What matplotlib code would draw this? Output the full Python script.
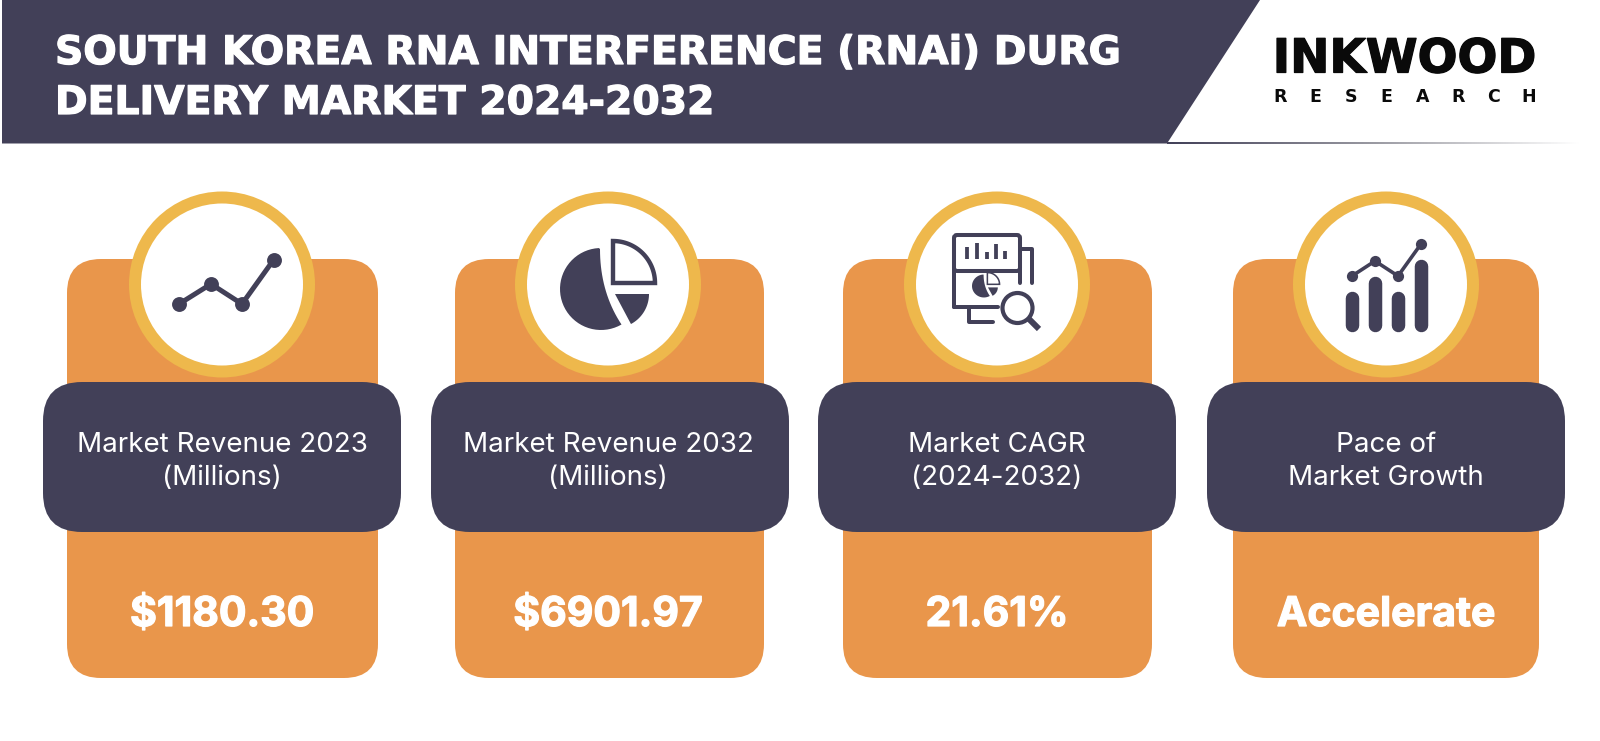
import numpy as np
import matplotlib
matplotlib.use("Agg")
import matplotlib.pyplot as plt
import matplotlib.patheffects as pe
from matplotlib.patches import Circle, FancyBboxPatch, Polygon
from matplotlib.colors import LinearSegmentedColormap

DARK = "#424058"
ORANGE = "#E9964B"
YELLOW = "#EEB84C"
FONT = "Inter"
HEAVY = "DejaVu Sans"

title_lines = ["SOUTH KOREA RNA INTERFERENCE (RNAi) DURG", "DELIVERY MARKET 2024-2032"]
labels_top = ["Market Revenue 2023", "Market Revenue 2032", "Market CAGR", "Pace of"]
labels_bottom = ["(Millions)", "(Millions)", "(2024-2032)", "Market Growth"]
values = ["$1180.30", "$6901.97", "21.61%", "Accelerate"]
logo_top = "INKWOOD"
logo_bottom = "RESEARCH"

card_left = [67, 455, 843, 1233]
card_right = [378, 764, 1152, 1539]
pill_left = [43, 431, 818, 1207]
pill_right = [401, 789, 1176, 1565]
centers = [222, 608, 997, 1386]

fig = plt.figure(figsize=(16, 7.41), dpi=100)
ax = fig.add_axes([0, 0, 1, 1])


def rbox(x0, y0, x1, y1, r, color, z):
    ax.add_patch(FancyBboxPatch((x0 + r, y0 + r), x1 - x0 - 2 * r, y1 - y0 - 2 * r,
                                boxstyle=f"round,pad={r},rounding_size={r}",
                                fc=color, ec="none", zorder=z))


def arc(cx, cy, r, a0, a1, n=40):
    t = np.radians(np.linspace(a0, a1, n))
    return np.column_stack([cx + r * np.cos(t), cy - r * np.sin(t)])


def line(xs, ys, lw, z=6, cap="round", join="round"):
    ax.plot(xs, ys, color=DARK, lw=lw * 0.72, solid_capstyle=cap,
            solid_joinstyle=join, zorder=z)


def pie_icon(tx=lambda p: p, s=1.0):
    big = arc(601, 289, 41, 93, 300)
    t = np.linspace(0, 1, 20)[:, None]
    curve = (1 - t) ** 2 * big[-1] + 2 * t * (1 - t) * np.array([[600, 292]]) + t ** 2 * np.array([[600, 249]])
    ax.add_patch(Polygon(tx(np.vstack([big, curve])), closed=True, fc=DARK, ec="none", zorder=6))
    quarter = np.vstack([[[613, 283]], arc(613, 283, 42, 90, 0)])
    ax.add_patch(Polygon(tx(quarter), closed=True, fc="white", ec=DARK, lw=4.4 * s * 0.72,
                         joinstyle="miter", zorder=6))
    small = np.vstack([[[615, 294]], arc(615, 294, 34, 0, -62)])
    ax.add_patch(Polygon(tx(small), closed=True, fc=DARK, ec="none", zorder=6))


# header
ax.add_patch(Polygon([[2, 0], [1260, 0], [1167, 143.5], [2, 143.5]], closed=True, fc=DARK, ec="none", zorder=2))
g = np.linspace(0, 1, 200)[None, :]
cmap = LinearSegmentedColormap.from_list("fade", [DARK, "#9a9aa2", "#ffffff"])
ax.imshow(g, extent=(1167, 1580, 144.5, 142.5), cmap=cmap, aspect="auto", zorder=1)
ax.set_xlim(0, 1600)
ax.set_ylim(741, 0)
ax.axis("off")

white_bold = [pe.withStroke(linewidth=0.9, foreground="white")]
black_bold = [pe.withStroke(linewidth=0.9, foreground="#0a0a0a")]

for y, s in zip([49, 99], title_lines):
    ax.text(55, y, s, color="white", fontsize=28.3, fontweight="bold", family=HEAVY,
            ha="left", va="center_baseline", zorder=3, path_effects=white_bold)

ax.text(1405, 55, logo_top, color="#0a0a0a", fontsize=33.8, fontweight="bold", family=HEAVY,
        ha="center", va="center_baseline", zorder=3, path_effects=black_bold)
for x, ch in zip(np.linspace(1280, 1529, len(logo_bottom)), logo_bottom):
    ax.text(x, 95, ch, color="#0a0a0a", fontsize=12.5, fontweight="bold", family=HEAVY,
            ha="center", va="center_baseline", zorder=3)

# cards
for i in range(4):
    cx = centers[i]
    rbox(card_left[i], 259, card_right[i], 678, 34, ORANGE, 2)
    rbox(pill_left[i], 382, pill_right[i], 532, 39, DARK, 3)
    ax.add_patch(Circle((cx, 284.5), 93, fc=YELLOW, ec="none", zorder=4))
    ax.add_patch(Circle((cx, 284.5), 81, fc="white", ec="none", zorder=5))
    ax.text(cx, 442, labels_top[i], color="white", fontsize=20, family=FONT,
            ha="center", va="center_baseline", zorder=6)
    ax.text(cx, 475, labels_bottom[i], color="white", fontsize=20, family=FONT,
            ha="center", va="center_baseline", zorder=6)
    ax.text(cx, 611, values[i], color="white", fontsize=29.5, fontweight="bold", family=FONT,
            ha="center", va="center_baseline", zorder=6, path_effects=white_bold)

# icon 1: trend line
lx, ly = [179, 211, 242, 273.5], [304, 284, 304, 260]
line(lx, ly, 5)
ax.scatter(lx, ly, s=115, color=DARK, zorder=6, linewidths=0)

# icon 2: pie
pie_icon()

# icon 3: report with magnifier
line([1020, 1020], [283, 240], 4)
line([954, 954], [240, 307], 4)
ax.add_patch(FancyBboxPatch((958, 239), 58, 28, boxstyle="round,pad=4,rounding_size=3",
                            fc="none", ec=DARK, lw=2.9, zorder=6))
line([954, 998], [307, 307], 4)
line([1020, 1032, 1032], [249, 249, 283], 4)
line([969, 969, 993], [308, 322, 322], 4)
bx, bt = [967, 977, 986.5, 996, 1005], [247, 243, 252, 244, 251]
for x, t in zip(bx, bt):
    line([x, x], [259, t], 3.8, cap="butt")
pie_icon(lambda p: np.asarray(p) * [0.29, 0.28] + [972 - 560 * 0.29, 272 - 239 * 0.28], 0.35)
ax.add_patch(Circle((1017.5, 308), 15, fc="none", ec=DARK, lw=3, zorder=6))
line([1029, 1039], [319, 329], 6, cap="butt")

# icon 4: bars and line
ix = [1352, 1375, 1398, 1421]
tops = [292, 277, 292, 260]
for x, t in zip(ix, tops):
    line([x, x], [325, t + 6], 13.5)
px, py = [1352, 1375, 1398, 1421], [276, 261, 276, 244]
line(px, py, 3.6)
ax.scatter(px, py, s=65, color=DARK, zorder=6, linewidths=0)

fig.savefig("out.png", dpi=100, facecolor="white")
